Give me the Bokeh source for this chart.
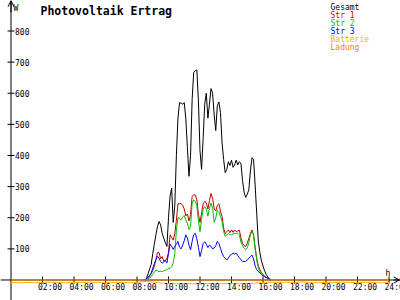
from math import pi
from bokeh.plotting import figure
from bokeh.models import Range1d, Span, Label, Arrow, OpenHead
from bokeh.core.properties import value
from bokeh.embed import file_html
from bokeh.resources import INLINE

# ---------------- data ----------------
title = "Photovoltaik Ertrag"
series_names = ["Gesamt", "Str 1", "Str 2", "Str 3", "Batterie", "Ladung"]
series_colors = ["#000000", "#C00000", "#00C000", "#0000FF", "#FFB000", "#FF8000"]

x_tick_vals = [2, 4, 6, 8, 10, 12, 14, 16, 18, 20, 22, 24]
x_tick_labels = ["02:00", "04:00", "06:00", "08:00", "10:00", "12:00",
                 "14:00", "16:00", "18:00", "20:00", "22:00", "24:00"]
y_tick_vals = [100, 200, 300, 400, 500, 600, 700, 800]
y_tick_labels = ["100", "200", "300", "400", "500", "600", "700", "800"]

times = [8.5, 8.6, 8.7, 8.8, 8.9,
         9.0, 9.1, 9.2, 9.3, 9.4, 9.5, 9.6, 9.7, 9.8, 9.9,
         10.0, 10.1, 10.2, 10.3, 10.4, 10.5, 10.6, 10.7, 10.8, 10.9,
         11.0, 11.1, 11.2, 11.3, 11.4, 11.5, 11.6, 11.7, 11.8, 11.9,
         12.0, 12.1, 12.2, 12.3, 12.4, 12.5, 12.6, 12.7, 12.8, 12.9,
         13.0, 13.1, 13.2, 13.3, 13.4, 13.5, 13.6, 13.7, 13.8, 13.9,
         14.0, 14.1, 14.2, 14.3, 14.4, 14.5, 14.6, 14.7, 14.8, 14.9,
         15.0, 15.1, 15.2, 15.3, 15.4, 15.5, 15.6, 15.7, 15.8, 15.9,
         16.0, 16.1, 16.2, 16.3, 16.4, 16.5]

gesamt = [0, 5, 20, 35, 50,
          85, 115, 145, 172, 188, 177, 150, 134, 120, 108,
          200, 270, 295, 185, 240, 400, 520, 570, 568, 565,
          570, 518, 425, 333, 400, 580, 667, 672, 675, 575,
          415, 355, 455, 565, 600, 520, 565, 615, 600, 530,
          480, 560, 572, 538, 441, 387, 345, 355, 380, 368,
          385, 362, 370, 385, 370, 380, 375, 320, 282, 265,
          275, 290, 350, 393, 387, 305, 215, 125, 88, 62,
          45, 30, 18, 10, 5, 0]

str1 = [0, 0, 5, 12, 20,
        30, 45, 65, 88, 88, 68, 75, 60, 62, 70,
        88, 145, 136, 128, 150, 192, 245, 245, 246, 240,
        228, 206, 212, 190, 210, 268, 274, 273, 258, 210,
        185, 215, 245, 252, 248, 228, 255, 278, 262, 228,
        222, 240, 245, 220, 204, 166, 150, 155, 161, 152,
        161, 153, 161, 155, 158, 160, 135, 118, 110, 108,
        118, 133, 150, 161, 145, 105, 70, 46, 33, 24,
        18, 12, 9, 6, 3, 0]

str2 = [0, 0, 3, 7, 11,
        18, 25, 32, 30, 27, 28, 27, 30, 32, 33,
        37, 38, 43, 55, 85, 160, 200, 198, 193, 203,
        207, 193, 182, 162, 172, 247, 257, 252, 238, 190,
        155, 195, 228, 236, 228, 205, 230, 247, 230, 185,
        200, 225, 220, 204, 188, 156, 140, 145, 150, 146,
        145, 148, 150, 149, 150, 145, 122, 110, 102, 97,
        103, 120, 145, 156, 145, 100, 65, 40, 28, 20,
        15, 11, 8, 5, 3, 0]

str3 = [0, 5, 10, 15, 22,
        38, 52, 65, 76, 70, 59, 54, 59, 63, 55,
        85, 115, 108, 98, 108, 115, 124, 105, 100, 112,
        126, 145, 135, 112, 97, 124, 145, 150, 132, 105,
        75, 95, 117, 123, 115, 104, 112, 108, 100, 103,
        110, 124, 117, 102, 86, 75, 70, 64, 70, 79,
        82, 86, 84, 86, 78, 72, 65, 60, 59, 60,
        64, 70, 75, 80, 68, 45, 33, 28, 22, 17,
        14, 11, 8, 6, 3, 0]

batt_times = [0, 0.5, 1, 1.5, 2, 2.5, 3, 3.5, 4, 4.5, 5, 5.5, 6, 6.5, 7, 7.5,
              8, 8.5, 9, 9.5, 10, 10.5, 11, 11.5, 12, 12.5, 13, 13.5, 14, 14.5,
              15, 15.5, 16, 16.5, 17, 17.5, 18, 18.5, 19, 19.5, 20, 20.5, 21,
              21.5, 22, 22.5, 23, 23.5, 24]
batterie = [-8, -9, -8, -9, -8, -7, -8, -9, -8, -8, -7, -8, -9, -8, -8, -9,
            -7, -5, -6, -10, -11, -12, -11, -12, -12, -11, -12, -12, -11, -12,
            -11, -10, -9, -7, -8, -7, -8, -6, -8, -9, -7, -8, -7,
            -8, -9, -7, -8, -9, -8]

ladung_times = [0, 24]
ladung = [0, 0]

# ---------------- figure ----------------
p = figure(width=400, height=300, output_backend="svg", toolbar_location=None,
           x_range=Range1d(-0.6667, 24.73), y_range=Range1d(-65.9, 898.0),
           x_axis_type=None, y_axis_type=None, min_border=0,
           outline_line_color=None, background_fill_color="white",
           border_fill_color="white")

mono = value("DejaVu Sans Mono")

# axis lines
p.add_layout(Span(location=0, dimension="width", line_color="black",
                  line_width=1, level="underlay"))
p.add_layout(Span(location=0, dimension="height", line_color="black",
                  line_width=1, level="underlay"))
p.add_layout(Arrow(end=OpenHead(size=6, line_width=1, line_color="black"),
                   x_start=0, y_start=860, x_end=0, y_end=897,
                   line_color="black", line_width=1))
p.add_layout(Arrow(end=OpenHead(size=6, line_width=1, line_color="black"),
                   x_start=24.3, y_start=0, x_end=24.68, y_end=0,
                   line_color="black", line_width=1))

# ticks
p.scatter(x=x_tick_vals, y=[0] * len(x_tick_vals), marker="dash", angle=pi / 2,
          size=7, line_color="black", line_width=1)
p.scatter(x=[0] * len(y_tick_vals), y=y_tick_vals, marker="dash",
          size=7, line_color="black", line_width=1)

# series
p.line(times, gesamt, line_color=series_colors[0], line_width=1)
p.line(times, str1, line_color=series_colors[1], line_width=1)
p.line(times, str2, line_color=series_colors[2], line_width=1)
p.line(times, str3, line_color=series_colors[3], line_width=1)
p.line(batt_times, batterie, line_color=series_colors[4], line_width=1)
p.line(ladung_times, ladung, line_color=series_colors[5], line_width=1)

# tick labels
p.text(x=x_tick_vals, y=[0] * len(x_tick_vals), text=x_tick_labels,
       x_offset=-4.5, y_offset=3, text_font=mono, text_font_size="8px",
       text_baseline="top", text_align="left", text_color="black")
p.text(x=[0] * len(y_tick_vals), y=y_tick_vals, text=y_tick_labels,
       x_offset=4, y_offset=0, text_font=mono, text_font_size="8px",
       text_baseline="middle", text_align="left", text_color="black")

# title and unit labels
p.add_layout(Label(x=40, y=289.5, x_units="screen", y_units="screen", text=title,
                   text_font="DejaVu Sans Mono", text_font_style="bold",
                   text_font_size="11.5px", text_baseline="alphabetic",
                   text_color="black"))
p.add_layout(Label(x=13, y=291.7, x_units="screen", y_units="screen", text="W",
                   text_font="DejaVu Sans Mono", text_font_size="8px",
                   text_baseline="alphabetic", text_color="black"))
p.add_layout(Label(x=385, y=27, x_units="screen", y_units="screen", text="h",
                   text_font="DejaVu Sans Mono", text_font_size="8px",
                   text_baseline="alphabetic", text_color="black"))

# legend (coloured text)
for i, (name, col) in enumerate(zip(series_names, series_colors)):
    p.add_layout(Label(x=330, y=293 - 8 * i, x_units="screen", y_units="screen",
                       text=name, text_font="DejaVu Sans Mono",
                       text_font_size="8px", text_baseline="alphabetic",
                       text_color=col))

open("out.html", "w").write(file_html(p, INLINE))
